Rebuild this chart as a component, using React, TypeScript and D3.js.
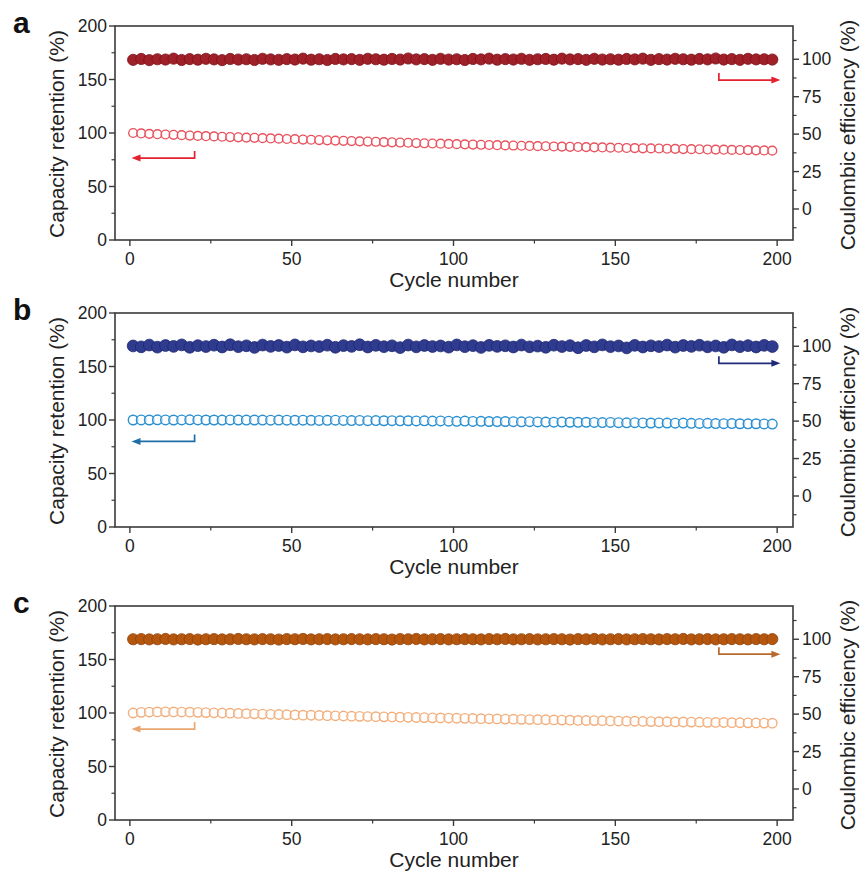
import React from 'react';
import * as d3 from 'd3';

// ---------- data ----------
const cyclesA = d3.range(1, 200, 2.5);
const cyclesB = d3.range(1, 200, 2.5);
const cyclesC = d3.range(1, 200, 2.5);

const capA = [
  100.0, 99.6, 99.2, 98.9, 98.6, 98.3, 98.0, 97.6, 97.3, 97.0,
  96.8, 96.5, 96.2, 96.0, 95.7, 95.5, 95.2, 94.9, 94.7, 94.4,
  94.2, 93.9, 93.7, 93.4, 93.2, 92.9, 92.7, 92.5, 92.2, 92.0,
  91.8, 91.5, 91.3, 91.1, 90.9, 90.6, 90.4, 90.2, 90.0, 89.8,
  89.6, 89.4, 89.2, 89.0, 88.8, 88.6, 88.4, 88.3, 88.1, 87.9,
  87.7, 87.6, 87.4, 87.3, 87.1, 86.9, 86.8, 86.6, 86.5, 86.3,
  86.2, 86.0, 85.9, 85.7, 85.6, 85.5, 85.3, 85.2, 85.0, 84.9,
  84.8, 84.6, 84.5, 84.4, 84.2, 84.1, 84.0, 83.8, 83.7, 83.5,
];
const ceA = [
  99.6, 100.2, 99.4, 100.0, 99.8, 100.4, 99.5, 100.1, 99.7, 100.3,
  99.9, 99.4, 100.2, 99.8, 100.0, 99.5, 100.3, 99.9, 99.6, 100.1,
  99.8, 100.4, 99.7, 100.0, 99.5, 100.2, 99.9, 100.1, 99.6, 100.3,
  100.0, 99.7, 100.2, 99.8, 100.5, 99.9, 100.1, 99.6, 100.3, 99.8,
  100.0, 99.5, 100.2, 99.9, 100.4, 99.7, 100.1, 99.8, 100.3, 99.6,
  100.0, 100.2, 99.7, 100.4, 99.9, 100.1, 99.6, 100.3, 99.8, 100.0,
  99.7, 100.2, 99.9, 100.4, 99.6, 100.1, 99.8, 100.3, 100.0, 99.7,
  100.2, 99.9, 100.5, 99.8, 100.1, 99.6, 100.3, 99.9, 100.0, 99.8,
];
const capB = [
  100.0, 100.1, 100.0, 100.2, 100.1, 100.0, 100.1, 100.2, 100.1, 100.0,
  100.0, 99.9, 100.1, 100.0, 99.9, 100.0, 99.9, 99.8, 99.9, 99.8,
  99.7, 99.8, 99.7, 99.6, 99.7, 99.8, 99.6, 99.5, 99.6, 99.4,
  99.5, 99.3, 99.4, 99.2, 99.3, 99.1, 99.2, 99.0, 99.1, 98.9,
  98.8, 99.0, 98.7, 98.8, 98.6, 98.5, 98.6, 98.4, 98.3, 98.4,
  98.2, 98.1, 98.0, 98.1, 97.9, 97.8, 97.9, 97.7, 97.6, 97.7,
  97.5, 97.4, 97.5, 97.3, 97.2, 97.3, 97.1, 97.0, 97.1, 96.9,
  96.8, 96.9, 96.7, 96.6, 96.7, 96.5, 96.4, 96.5, 96.3, 96.2,
];
const ceB = [
  100.2, 99.6, 100.8, 99.4, 100.5, 99.9, 100.9, 99.3, 100.4, 99.8,
  100.7, 99.5, 101.0, 99.7, 100.3, 99.2, 100.8, 99.9, 100.5, 99.4,
  100.9, 99.6, 100.2, 99.8, 100.7, 99.3, 100.4, 99.9, 101.0, 99.5,
  100.6, 99.7, 100.3, 99.1, 100.8, 99.6, 100.5, 99.8, 100.2, 99.4,
  100.9, 99.7, 100.4, 99.2, 100.6, 99.9, 100.3, 99.5, 100.8, 99.6,
  100.1, 99.3, 100.7, 99.8, 100.4, 99.0, 100.5, 99.6, 100.9, 99.7,
  100.2, 98.9, 100.6, 99.5, 100.3, 99.8, 100.8, 99.4, 100.5, 99.9,
  100.7, 99.6, 100.2, 99.3, 100.9, 99.7, 100.4, 99.5, 100.6, 99.8,
];
const capC = [
  100.0, 100.6, 100.9, 101.0, 101.1, 101.0, 100.9, 100.8, 100.6, 100.4,
  100.2, 100.0, 99.8, 99.6, 99.4, 99.2, 99.0, 98.8, 98.6, 98.4,
  98.2, 98.0, 97.9, 97.7, 97.5, 97.4, 97.2, 97.0, 96.9, 96.7,
  96.6, 96.4, 96.3, 96.1, 96.0, 95.8, 95.7, 95.5, 95.4, 95.3,
  95.1, 95.0, 94.9, 94.7, 94.6, 94.5, 94.3, 94.2, 94.1, 93.9,
  93.8, 93.7, 93.5, 93.4, 93.3, 93.1, 93.0, 92.9, 92.8, 92.6,
  92.5, 92.4, 92.3, 92.1, 92.0, 91.9, 91.8, 91.7, 91.6, 91.5,
  91.4, 91.3, 91.2, 91.1, 91.0, 90.9, 90.8, 90.7, 90.6, 90.5,
];
const ceC = [
  100.0, 100.1, 99.9, 100.0, 100.2, 99.9, 100.0, 100.1, 99.8, 100.0,
  100.1, 99.9, 100.0, 100.2, 100.0, 99.9, 100.1, 100.0, 99.8, 100.1,
  100.0, 100.2, 99.9, 100.0, 100.1, 99.9, 100.0, 100.1, 100.0, 99.9,
  100.1, 100.0, 99.8, 100.1, 100.0, 100.2, 99.9, 100.0, 100.1, 99.9,
  100.0, 100.1, 100.0, 99.9, 100.1, 100.0, 100.2, 99.9, 100.0, 100.1,
  99.9, 100.0, 100.1, 100.0, 99.8, 100.1, 100.0, 100.2, 99.9, 100.0,
  100.1, 99.9, 100.0, 100.1, 100.0, 99.9, 100.1, 100.0, 100.2, 99.9,
  100.0, 100.1, 99.9, 100.0, 100.1, 100.0, 99.9, 100.1, 100.0, 100.1,
];

const xTicks = [0, 50, 100, 150, 200];
const xMinor = [25, 75, 125, 175];
const leftTicks = [0, 50, 100, 150, 200];
const leftMinor = [25, 75, 125, 175];
const rightTicks = [0, 25, 50, 75, 100];
const rightMinor = [-12.5, 12.5, 37.5, 62.5, 87.5, 112.5];

const panelLetters = ['a', 'b', 'c'];
// arrow heights expressed on the left axis (%)
const leftArrowY = [76.6, 80, 85];
const rightArrowY = [149.5, 153, 155];

// ---------- layout ----------
const W = 861;
const H = 872;
const plotLeft = 115;
const plotRight = 793;
const plotH = 214;
const panelTops = [26, 313, 606];
const FONT = 'Liberation Sans, Arial, Helvetica, sans-serif';

const styles = [
  { filled: '#a0202a', filledStroke: '#78121a', open: '#e8525e', leftArrow: '#e4212f', rightArrow: '#e4212f', rOpen: 4.4, rFilled: 5.6 },
  { filled: '#2f3b8f', filledStroke: '#1f2870', open: '#2a8fd0', leftArrow: '#1f6ea8', rightArrow: '#1e2a78', rOpen: 4.8, rFilled: 5.9 },
  { filled: '#b5560f', filledStroke: '#8f420a', open: '#f2ae7c', leftArrow: '#e9a673', rightArrow: '#b8692e', rOpen: 4.7, rFilled: 5.6 },
];

const panelData = [
  { cycles: cyclesA, cap: capA, ce: ceA },
  { cycles: cyclesB, cap: capB, ce: ceB },
  { cycles: cyclesC, cap: capC, ce: ceC },
];

const x = d3.scaleLinear().domain([-4.6, 204.9]).range([plotLeft, plotRight]);

function Panel({ idx }: { idx: number }) {
  const top = panelTops[idx];
  const bottom = top + plotH;
  const yL = d3.scaleLinear().domain([0, 200]).range([bottom, top]);
  const yR = d3.scaleLinear().domain([-20.7, 122.2]).range([bottom, top]);
  const st = styles[idx];
  const d = panelData[idx];
  const axisColor = '#3a3a3a';
  const textColor = '#222';

  const laY = yL(leftArrowY[idx]);
  const raY = yL(rightArrowY[idx]);
  const laStart = x(20);
  const laTip = x(0.5);
  const raStart = x(182);
  const raTip = x(201);

  return (
    <g>
      <text x={13} y={top + 7} fontFamily={FONT} fontWeight="bold" fontSize={30} fill="#111">
        {panelLetters[idx]}
      </text>

      <rect x={plotLeft} y={top} width={plotRight - plotLeft} height={plotH} fill="none" stroke={axisColor} strokeWidth={1.6} />

      {leftTicks.map((t) => (
        <g key={'l' + t}>
          <line x1={plotLeft - 6} x2={plotLeft} y1={yL(t)} y2={yL(t)} stroke={axisColor} strokeWidth={1.4} />
          <text x={plotLeft - 8} y={yL(t)} dy="0.35em" textAnchor="end" fontFamily={FONT} fontSize={17.5} fill={textColor}>
            {t}
          </text>
        </g>
      ))}
      {leftMinor.map((t) => (
        <line key={'lm' + t} x1={plotLeft - 3.5} x2={plotLeft} y1={yL(t)} y2={yL(t)} stroke={axisColor} strokeWidth={1.2} />
      ))}

      {rightTicks.map((t) => (
        <g key={'r' + t}>
          <line x1={plotRight} x2={plotRight + 6} y1={yR(t)} y2={yR(t)} stroke={axisColor} strokeWidth={1.4} />
          <text x={plotRight + 9} y={yR(t)} dy="0.35em" textAnchor="start" fontFamily={FONT} fontSize={17.5} fill={textColor}>
            {t}
          </text>
        </g>
      ))}
      {rightMinor.map((t) => (
        <line key={'rm' + t} x1={plotRight} x2={plotRight + 3.5} y1={yR(t)} y2={yR(t)} stroke={axisColor} strokeWidth={1.2} />
      ))}

      {xTicks.map((t) => (
        <g key={'x' + t}>
          <line x1={x(t)} x2={x(t)} y1={bottom} y2={bottom + 6} stroke={axisColor} strokeWidth={1.4} />
          <text x={x(t)} y={bottom + 25} textAnchor="middle" fontFamily={FONT} fontSize={17.5} fill={textColor}>
            {t}
          </text>
        </g>
      ))}
      {xMinor.map((t) => (
        <line key={'xm' + t} x1={x(t)} x2={x(t)} y1={bottom} y2={bottom + 3.5} stroke={axisColor} strokeWidth={1.2} />
      ))}

      <text x={(plotLeft + plotRight) / 2} y={bottom + 47} textAnchor="middle" fontFamily={FONT} fontSize={21} fill={textColor}>
        Cycle number
      </text>
      <text
        transform={`translate(57,${top + plotH / 2 + 1}) rotate(-90)`}
        textAnchor="middle"
        dy="0.35em"
        fontFamily={FONT}
        fontSize={21}
        fill={textColor}
      >
        Capacity retention (%)
      </text>
      <text
        transform={`translate(848,${top + plotH / 2 + 2}) rotate(-90)`}
        textAnchor="middle"
        dy="0.35em"
        fontFamily={FONT}
        fontSize={21}
        fill={textColor}
      >
        Coulombic efficiency (%)
      </text>

      {d.ce.map((v, i) => (
        <circle key={'f' + i} cx={x(d.cycles[i])} cy={yR(v)} r={st.rFilled} fill={st.filled} stroke={st.filledStroke} strokeWidth={0.8} />
      ))}

      {d.cap.map((v, i) => (
        <circle key={'o' + i} cx={x(d.cycles[i])} cy={yL(v)} r={st.rOpen} fill="#fff" fillOpacity={0.6} stroke={st.open} strokeWidth={1.4} />
      ))}

      <path d={`M${laStart},${laY - 7}V${laY}H${laTip + 7}`} fill="none" stroke={st.leftArrow} strokeWidth={1.7} />
      <path d={`M${laTip},${laY}L${laTip + 9},${laY - 3.5}L${laTip + 9},${laY + 3.5}Z`} fill={st.leftArrow} />

      <path d={`M${raStart},${raY - 7}V${raY}H${raTip - 7}`} fill="none" stroke={st.rightArrow} strokeWidth={1.7} />
      <path d={`M${raTip},${raY}L${raTip - 9},${raY - 3.5}L${raTip - 9},${raY + 3.5}Z`} fill={st.rightArrow} />
    </g>
  );
}

export default function App() {
  return (
    <svg
      width={W}
      height={H}
      viewBox={`0 0 ${W} ${H}`}
      style={{ position: 'absolute', left: 0, top: 0, background: '#fff' }}
    >
      <rect x={0} y={0} width={W} height={H} fill="#fff" />
      {panelTops.map((_, i) => (
        <Panel key={i} idx={i} />
      ))}
    </svg>
  );
}
